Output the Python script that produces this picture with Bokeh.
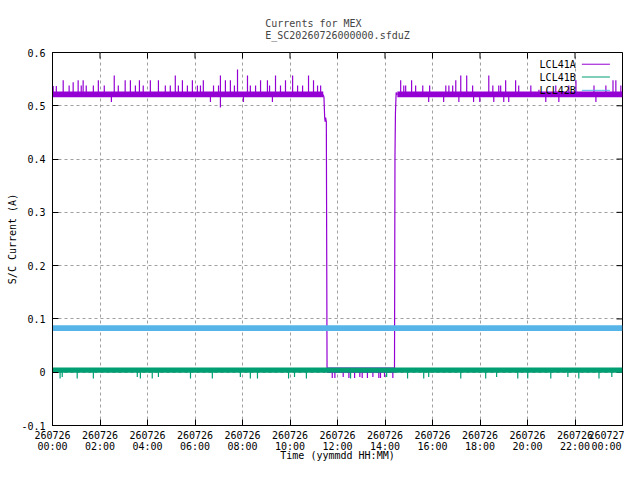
from bokeh.plotting import figure
from bokeh.models import FixedTicker, Title, Range1d
from bokeh.core.properties import value
from bokeh.embed import file_html
from bokeh.resources import INLINE

FONT = "DejaVu Sans Mono"
FS = "10px"

# ---------------- axes / ticks ----------------
x_ticks = [0, 2, 4, 6, 8, 10, 12, 14, 16, 18, 20, 22, 24]
x_tick_dates = ["260726"] * 12 + ["260727"]
x_tick_times = ["00:00", "02:00", "04:00", "06:00", "08:00", "10:00", "12:00",
                "14:00", "16:00", "18:00", "20:00", "22:00", "00:00"]
y_ticks = [-0.1, 0, 0.1, 0.2, 0.3, 0.4, 0.5, 0.6]
y_tick_labels = ["-0.1", "0", "0.1", "0.2", "0.3", "0.4", "0.5", "0.6"]

series_names = ["LCL41A", "LCL41B", "LCL42B"]
series_colors = ["#9400d3", "#009e73", "#56b4e9"]

# ---------------- LCL41A ----------------
a_on1_t = [0.0, 11.40]
a_on2_t = [14.52, 24.0]
a_on_lo = 0.516
a_on_hi = 0.527
a_on_mid = 0.521
a_off_t = [11.56, 14.40]
a_off_lo = -0.001
a_off_hi = 0.009
a_off_mid = 0.004
a_drop_t = [11.40, 11.43, 11.46, 11.48, 11.50, 11.53, 11.56]
a_drop_v = [0.521, 0.516, 0.478, 0.470, 0.478, 0.470, 0.004]
a_rise_t = [14.40, 14.42, 14.44, 14.47, 14.52]
a_rise_v = [0.004, 0.405, 0.487, 0.525, 0.521]
a_up_t = [0.03, 0.16, 0.45, 0.70, 0.87, 1.08, 1.21, 1.29, 1.42, 1.72, 1.93, 2.18,
          2.60, 2.77, 3.06, 3.28, 3.49, 3.66, 3.82, 4.12, 4.46, 4.75, 4.96, 5.17,
          5.30, 5.47, 5.68, 5.89, 6.10, 6.23, 6.35, 6.78, 6.99, 7.07, 7.28, 7.49,
          7.66, 7.79, 8.21, 8.33, 8.55, 8.76, 9.05, 9.14, 9.39, 9.60, 9.81, 10.11,
          10.32, 10.53, 10.78, 10.99, 11.16, 11.29,
          14.66, 14.79, 14.87, 15.12, 15.29, 15.59, 15.88, 16.56, 16.69, 16.85,
          16.98, 17.19, 17.44, 17.69, 18.37, 18.54, 18.79, 18.87, 19.08, 19.50,
          19.63, 20.14, 20.48, 21.19, 21.74, 22.04, 22.80, 23.30, 23.60, 23.72, 23.93]
a_up_v = [0.537, 0.537, 0.548, 0.538, 0.544, 0.548, 0.538, 0.548, 0.538, 0.538, 0.548, 0.538,
          0.557, 0.538, 0.548, 0.548, 0.538, 0.548, 0.538, 0.548, 0.548, 0.538, 0.538, 0.557,
          0.538, 0.548, 0.538, 0.548, 0.538, 0.538, 0.548, 0.538, 0.538, 0.557, 0.548, 0.548,
          0.538, 0.568, 0.557, 0.538, 0.538, 0.548, 0.548, 0.538, 0.557, 0.538, 0.548, 0.557,
          0.538, 0.538, 0.557, 0.548, 0.538, 0.538,
          0.548, 0.538, 0.538, 0.548, 0.538, 0.538, 0.538, 0.538, 0.538, 0.538,
          0.548, 0.557, 0.557, 0.538, 0.557, 0.538, 0.538, 0.538, 0.548, 0.548,
          0.538, 0.538, 0.530, 0.538, 0.538, 0.548, 0.538, 0.538, 0.548, 0.548, 0.538]
a_dn_t = [2.48, 6.65, 7.07, 8.04, 9.26, 15.84, 16.47, 17.11, 17.73, 17.99, 18.58,
          19.00, 19.21, 20.77, 21.32, 22.88]
a_dn_v = [0.507, 0.507, 0.497, 0.507, 0.507, 0.507, 0.507, 0.507, 0.507, 0.507, 0.507,
          0.507, 0.507, 0.507, 0.507, 0.507]
a_zero_dn_t = [11.78, 11.89, 12.24, 12.48, 12.72, 12.94, 13.04, 13.26, 13.49, 13.74,
               13.81, 13.98, 14.33]
a_zero_dn_v = [-0.011, -0.011, -0.009, -0.011, -0.011, -0.009, -0.011, -0.011, -0.009,
               -0.011, -0.011, -0.009, -0.011]

# ---------------- LCL41B ----------------
b_t = [0.0, 24.0]
b_lo = -0.001
b_hi = 0.009
b_mid = 0.004
b_dn_t = [0.32, 0.41, 1.04, 1.72, 3.57, 3.70, 4.20, 4.46, 5.81, 6.73, 7.91, 8.33,
          8.63, 9.94, 10.19, 10.69, 12.55, 14.07, 14.95, 15.63, 15.84, 17.19, 18.24,
          18.70, 19.59, 20.01, 20.98, 21.70, 22.16, 23.01, 23.55]
b_dn_v = [-0.012, -0.009, -0.012, -0.012, -0.009, -0.012, -0.012, -0.009, -0.012,
          -0.012, -0.009, -0.012, -0.012, -0.012, -0.009, -0.012, -0.012, -0.009,
          -0.012, -0.012, -0.009, -0.012, -0.012, -0.009, -0.012, -0.012, -0.012,
          -0.009, -0.012, -0.012, -0.009]

# ---------------- LCL42B ----------------
c_t = [0.0, 24.0]
c_lo = 0.0775
c_hi = 0.088

# ---------------- figure ----------------
X0, X1, Y0, Y1 = 0, 24, -0.1, 0.6
p = figure(width=624, height=464, x_range=Range1d(X0, X1), y_range=Range1d(Y0, Y1),
           output_backend="svg", toolbar_location=None, title=None,
           min_border_left=52, min_border_right=2, min_border_top=52,
           min_border_bottom=39, background_fill_color="white",
           border_fill_color="white")
p.outline_line_color = "black"
p.outline_line_width = 1

xt = FixedTicker(ticks=x_ticks)
yt = FixedTicker(ticks=y_ticks)

xa = p.xaxis[0]
xa.ticker = xt
xa.major_label_overrides = {t: f"{d}\n{tm}" for t, d, tm in zip(x_ticks, x_tick_dates, x_tick_times)}
xa.axis_label = "Time (yymmdd HH:MM)"
ya = p.yaxis[0]
ya.ticker = yt
ya.major_label_overrides = {t: s for t, s in zip(y_ticks, y_tick_labels)}
ya.axis_label = "S/C Current (A)"

for ax in (xa, ya):
    ax.major_tick_in = 6
    ax.major_tick_out = 0
    ax.minor_tick_line_color = None
    ax.axis_line_color = "black"
    ax.major_tick_line_color = "black"
    ax.major_label_text_font = FONT
    ax.major_label_text_font_size = FS
    ax.major_label_text_color = "black"
    ax.axis_label_text_font = FONT
    ax.axis_label_text_font_size = FS
    ax.axis_label_text_font_style = "normal"
    ax.axis_label_text_color = "black"
xa.major_label_text_line_height = 1.0
xa.major_label_standoff = 4
xa.axis_label_standoff = -5
ya.major_label_standoff = 7
ya.axis_label_standoff = 0

p.add_layout(Title(text="Currents for MEX\nE_SC20260726000000.sfduZ", align="center",
                   vertical_align="top", text_font=FONT, text_font_size=FS,
                   text_font_style="normal", text_line_height=1.15, standoff=18), "above")

for g in (p.xgrid[0], p.ygrid[0]):
    g.grid_line_color = "#a0a0a0"
    g.grid_line_dash = "3 3"
    g.grid_line_width = 1
p.xgrid.ticker = xt
p.ygrid.ticker = yt

# mirrored inward ticks on the top and right border (6 px long)
tick_dx = 6 * (X1 - X0) / 570
tick_dy = 6 * (Y1 - Y0) / 373
p.segment(x0=x_ticks, y0=[Y1] * len(x_ticks), x1=x_ticks, y1=[Y1 - tick_dy] * len(x_ticks),
          line_color="black", line_width=1)
p.segment(x0=[X1] * len(y_ticks), y0=y_ticks, x1=[X1 - tick_dx] * len(y_ticks), y1=y_ticks,
          line_color="black", line_width=1)

ca, cb, cc = series_colors
SW = 1.2

# LCL41A
for seg in (a_on1_t, a_on2_t):
    p.varea(x=seg, y1=[a_on_lo] * 2, y2=[a_on_hi] * 2, fill_color=ca)
p.varea(x=a_off_t, y1=[a_off_lo] * 2, y2=[a_off_hi] * 2, fill_color=ca)
p.segment(x0=a_up_t, y0=[a_on_mid] * len(a_up_t), x1=a_up_t, y1=a_up_v,
          line_color=ca, line_width=SW)
p.segment(x0=a_dn_t, y0=[a_on_mid] * len(a_dn_t), x1=a_dn_t, y1=a_dn_v,
          line_color=ca, line_width=SW)
p.segment(x0=a_zero_dn_t, y0=[a_off_mid] * len(a_zero_dn_t), x1=a_zero_dn_t,
          y1=a_zero_dn_v, line_color=ca, line_width=SW)
p.line(a_drop_t, a_drop_v, line_color=ca, line_width=SW)
p.line(a_rise_t, a_rise_v, line_color=ca, line_width=SW)

# LCL41B
p.varea(x=b_t, y1=[b_lo] * 2, y2=[b_hi] * 2, fill_color=cb)
p.segment(x0=b_dn_t, y0=[b_mid] * len(b_dn_t), x1=b_dn_t, y1=b_dn_v,
          line_color=cb, line_width=SW)

# LCL42B
p.varea(x=c_t, y1=[c_lo] * 2, y2=[c_hi] * 2, fill_color=cc)

# key (gnuplot style: label then sample line)
key_text_x = 22.03
key_x0 = 22.29
key_x1 = 23.47
key_rows = [0.578, 0.554, 0.529]
p.text(x=[key_text_x] * 3, y=key_rows, text=series_names, text_align="right",
       text_baseline="middle", text_font=value(FONT), text_font_size=FS,
       text_color="black")
p.segment(x0=[key_x0] * 3, y0=key_rows, x1=[key_x1] * 3, y1=key_rows,
          line_color=series_colors, line_width=1)

open("out.html", "w").write(file_html(p, INLINE))
